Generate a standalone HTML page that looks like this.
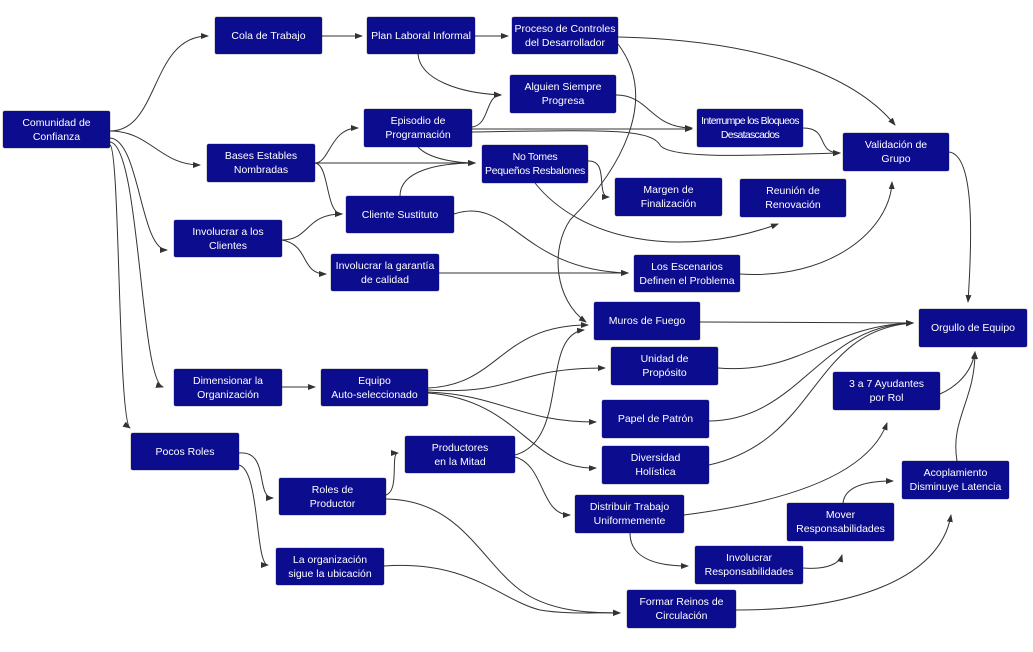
<!DOCTYPE html>
<html><head><meta charset="utf-8"><style>
body{margin:0;width:1033px;height:652px;background:#fff;position:relative;overflow:hidden;font-family:"Liberation Sans",sans-serif}
.b{position:absolute;background:#0c0c8e;color:#fff;font-size:10.5px;line-height:14px;display:flex;align-items:center;justify-content:center;text-align:center;border-radius:2px;box-shadow:0 0 1px #000;white-space:nowrap}
svg{position:absolute;left:0;top:0}
</style></head><body>
<svg width="1033" height="652" fill="none" stroke="#333" stroke-width="1">
<defs><marker id="a" markerWidth="8" markerHeight="6" refX="7" refY="3" orient="auto" markerUnits="userSpaceOnUse"><path d="M0,0 L8,3 L0,6 z" fill="#333" stroke="none"/></marker></defs>
<g marker-end="url(#a)">
<path d="M110,131 C160,131 150,36 208,36"/>
<path d="M110,131 C150,131 160,165 200,165"/>
<path d="M110,138 C140,140 140,250 167,250"/>
<path d="M110,142 C140,145 140,380 163,387"/>
<path d="M110,145 C120,150 118,420 130,428"/>
<path d="M322,36 L362,36"/>
<path d="M475,36 L508,36"/>
<path d="M418,54 C420,80 460,93 501,95"/>
<path d="M472,127 C490,125 485,95 501,95"/>
<path d="M472,129 L692,129"/>
<path d="M472,132 C600,130 650,128 660,145 C670,160 760,155 840,153"/>
<path d="M418,147 C430,160 460,163 475,163"/>
<path d="M315,163 C330,163 330,128 358,128"/>
<path d="M315,163 L475,163"/>
<path d="M315,163 C330,165 325,214 342,214"/>
<path d="M400,196 C400,170 440,163 475,163"/>
<path d="M454,214 C510,195 520,270 628,273"/>
<path d="M282,240 C310,240 305,214 342,214"/>
<path d="M282,240 C310,245 300,274 326,274"/>
<path d="M439,273 L628,273"/>
<path d="M618,37 C750,40 850,70 895,125"/>
<path d="M618,44 C660,100 620,170 570,220 C550,250 555,300 586,322"/>
<path d="M616,95 C650,95 650,128 692,128"/>
<path d="M803,128 C830,128 815,153 840,153"/>
<path d="M588,161 C610,160 595,197 609,197"/>
<path d="M535,183 C580,240 680,260 778,224"/>
<path d="M740,274 C830,280 890,230 892,182"/>
<path d="M949,152 C975,155 972,240 968,302"/>
<path d="M428,388 C500,385 500,325 588,325"/>
<path d="M515,455 C570,440 540,335 584,330"/>
<path d="M428,390 C520,395 510,368 605,368"/>
<path d="M428,392 C500,395 520,422 596,422"/>
<path d="M428,393 C520,400 530,470 596,468"/>
<path d="M282,387 L315,387"/>
<path d="M700,322 L913,323"/>
<path d="M718,368 C800,375 830,325 913,323"/>
<path d="M709,421 C800,420 820,325 913,323"/>
<path d="M709,465 C820,440 810,330 913,323"/>
<path d="M940,394 C960,385 972,370 975,352"/>
<path d="M957,461 C950,420 975,400 975,352"/>
<path d="M684,515 C800,500 870,470 887,423"/>
<path d="M843,503 C845,485 870,481 893,481"/>
<path d="M803,568 C830,570 840,562 842,555"/>
<path d="M630,533 C630,560 660,566 688,566"/>
<path d="M736,610 C850,610 940,580 951,515"/>
<path d="M239,453 C270,450 255,498 273,498"/>
<path d="M239,465 C260,470 255,565 268,565"/>
<path d="M386,495 C400,490 390,453 398,453"/>
<path d="M386,499 C460,500 480,560 520,590 C550,612 590,613 620,613"/>
<path d="M384,566 C470,560 500,600 540,610 C570,615 600,612 620,613"/>
<path d="M515,457 C545,465 540,515 570,515"/>
</g></svg>
<div class="b" style="left:3px;top:111px;width:107px;height:37px">Comunidad de<br>Confianza</div>
<div class="b" style="left:215px;top:17px;width:107px;height:37px">Cola de Trabajo</div>
<div class="b" style="left:367px;top:17px;width:108px;height:37px">Plan Laboral Informal</div>
<div class="b" style="left:512px;top:17px;width:106px;height:37px">Proceso de Controles<br>del Desarrollador</div>
<div class="b" style="left:510px;top:75px;width:106px;height:38px">Alguien Siempre<br>Progresa</div>
<div class="b" style="left:364px;top:109px;width:108px;height:38px">Episodio de<br>Programación</div>
<div class="b" style="left:207px;top:144px;width:108px;height:38px">Bases Estables<br>Nombradas</div>
<div class="b" style="left:482px;top:145px;width:106px;height:38px;letter-spacing:-0.3px">No Tomes<br>Pequeños Resbalones</div>
<div class="b" style="left:697px;top:109px;width:106px;height:38px;letter-spacing:-0.7px">Interrumpe los Bloqueos<br>Desatascados</div>
<div class="b" style="left:843px;top:133px;width:106px;height:38px">Validación de<br>Grupo</div>
<div class="b" style="left:615px;top:178px;width:107px;height:38px">Margen de<br>Finalización</div>
<div class="b" style="left:740px;top:179px;width:106px;height:38px">Reunión de<br>Renovación</div>
<div class="b" style="left:346px;top:196px;width:108px;height:37px">Cliente Sustituto</div>
<div class="b" style="left:174px;top:220px;width:108px;height:37px">Involucrar a los<br>Clientes</div>
<div class="b" style="left:331px;top:254px;width:108px;height:37px">Involucrar la garantía<br>de calidad</div>
<div class="b" style="left:634px;top:255px;width:106px;height:37px">Los Escenarios<br>Definen el Problema</div>
<div class="b" style="left:594px;top:302px;width:106px;height:38px">Muros de Fuego</div>
<div class="b" style="left:919px;top:309px;width:108px;height:38px">Orgullo de Equipo</div>
<div class="b" style="left:611px;top:347px;width:107px;height:38px">Unidad de<br>Propósito</div>
<div class="b" style="left:174px;top:369px;width:108px;height:37px">Dimensionar la<br>Organización</div>
<div class="b" style="left:321px;top:369px;width:107px;height:37px">Equipo<br>Auto-seleccionado</div>
<div class="b" style="left:833px;top:372px;width:107px;height:38px">3 a 7 Ayudantes<br>por Rol</div>
<div class="b" style="left:602px;top:400px;width:107px;height:38px">Papel de Patrón</div>
<div class="b" style="left:131px;top:433px;width:108px;height:37px">Pocos Roles</div>
<div class="b" style="left:405px;top:436px;width:110px;height:37px">Productores<br>en la Mitad</div>
<div class="b" style="left:602px;top:446px;width:107px;height:38px">Diversidad<br>Holística</div>
<div class="b" style="left:902px;top:461px;width:107px;height:38px">Acoplamiento<br>Disminuye Latencia</div>
<div class="b" style="left:279px;top:478px;width:107px;height:37px">Roles de<br>Productor</div>
<div class="b" style="left:575px;top:495px;width:109px;height:38px">Distribuir Trabajo<br>Uniformemente</div>
<div class="b" style="left:787px;top:503px;width:107px;height:38px">Mover<br>Responsabilidades</div>
<div class="b" style="left:695px;top:546px;width:108px;height:38px">Involucrar<br>Responsabilidades</div>
<div class="b" style="left:276px;top:548px;width:108px;height:37px">La organización<br>sigue la ubicación</div>
<div class="b" style="left:627px;top:590px;width:109px;height:38px">Formar Reinos de<br>Circulación</div>
</body></html>
